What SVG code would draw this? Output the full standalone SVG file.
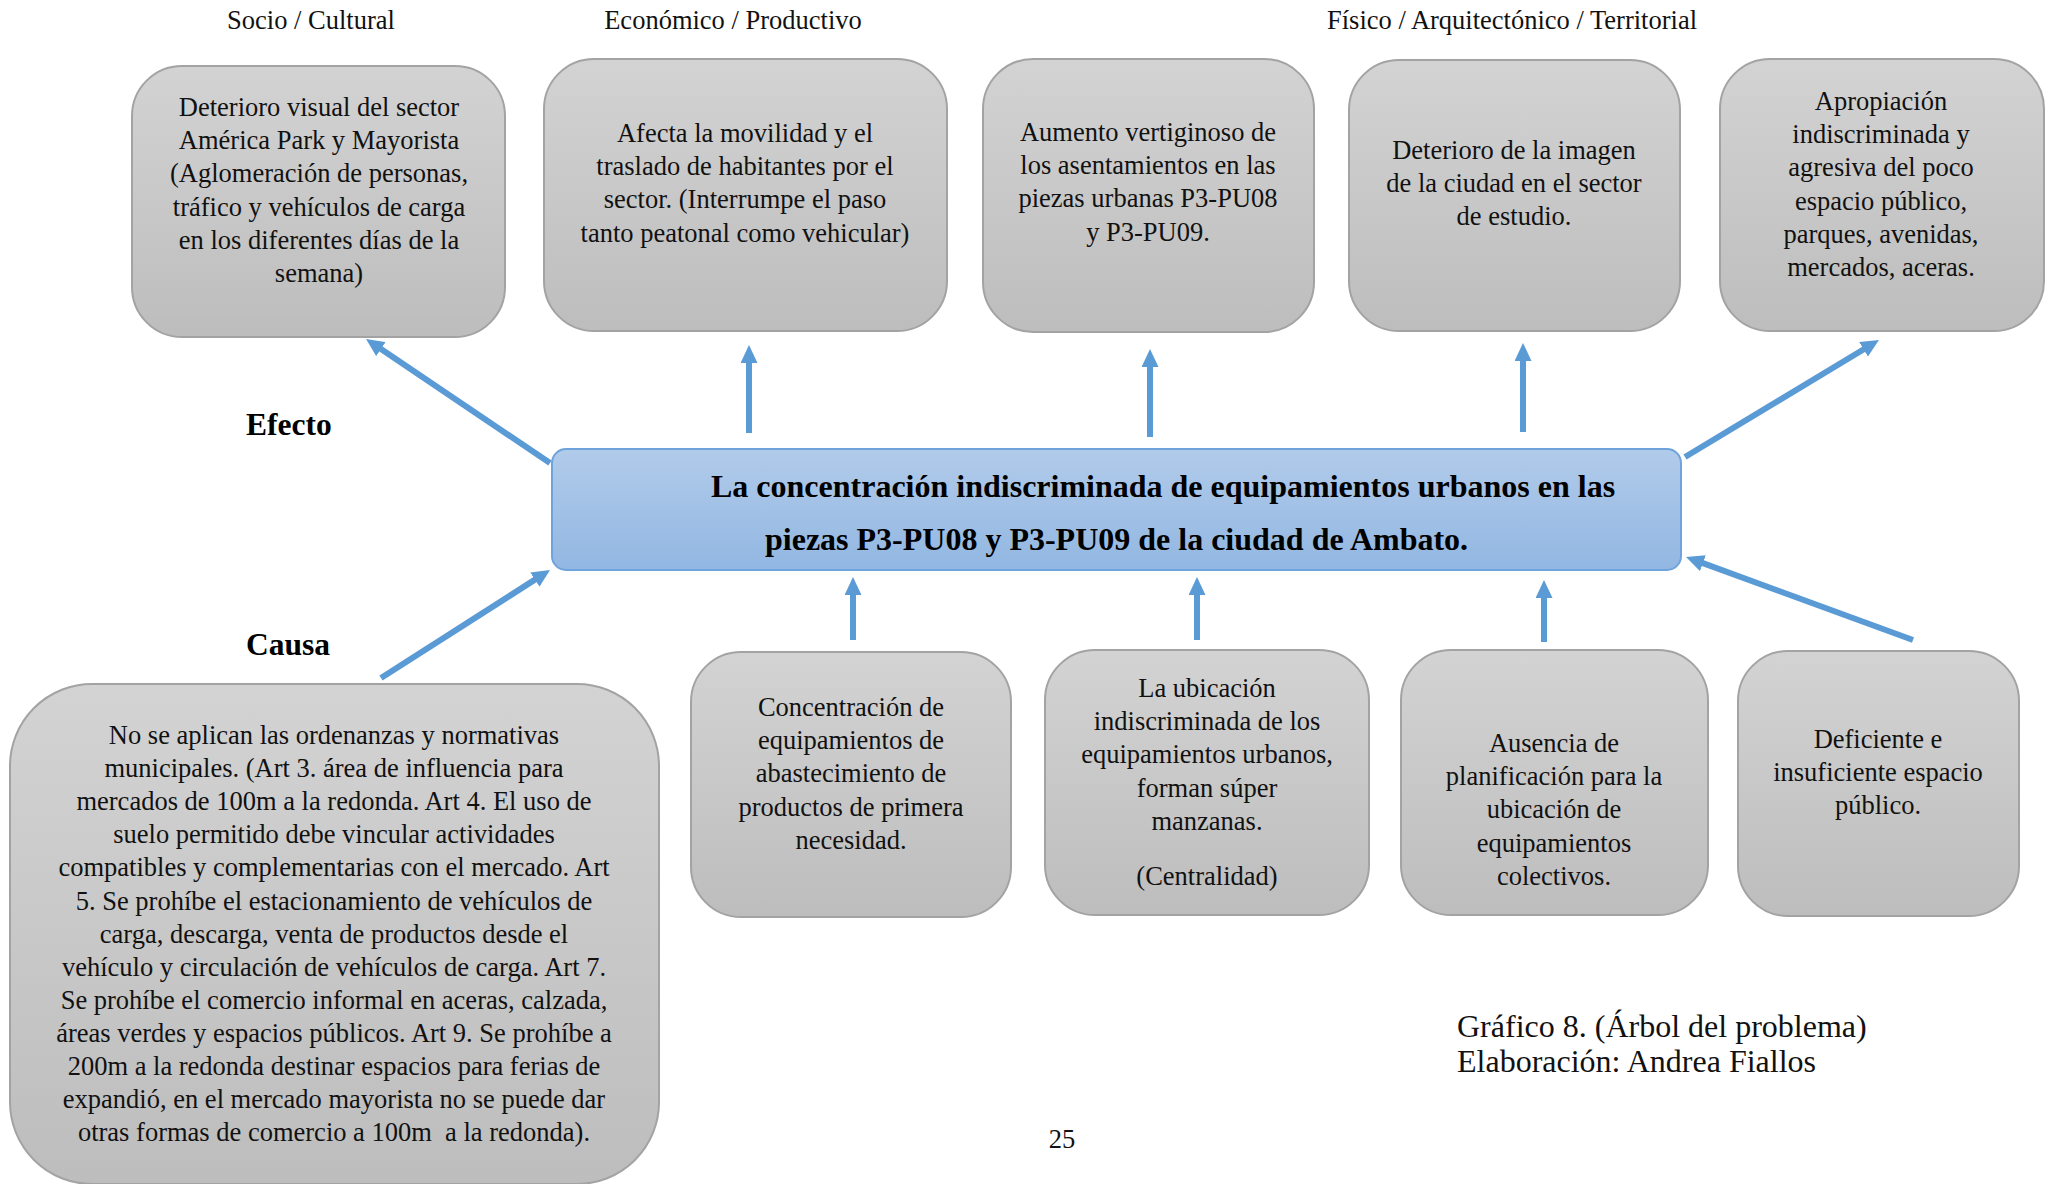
<svg xmlns="http://www.w3.org/2000/svg" width="2048" height="1184" viewBox="0 0 2048 1184">
<defs>
<linearGradient id="gray" x1="0" y1="0" x2="0" y2="1">
<stop offset="0" stop-color="#d3d3d3"/>
<stop offset="1" stop-color="#bdbdbd"/>
</linearGradient>
<linearGradient id="blue" x1="0" y1="0" x2="0" y2="1">
<stop offset="0" stop-color="#b1cbea"/>
<stop offset="1" stop-color="#92b7e2"/>
</linearGradient>
<marker id="ah" viewBox="0 0 18 17" markerWidth="18" markerHeight="17" markerUnits="userSpaceOnUse" refX="8" refY="8.5" orient="auto">
<path d="M0,0 L18,8.5 L0,17 z" fill="#5b9bd5"/>
</marker>
</defs>
<style>
.box{fill:url(#gray);stroke:#a3a3a3;stroke-width:2}
.main{fill:url(#blue);stroke:#6fa3db;stroke-width:2}
.t{font-family:"Liberation Serif","Times New Roman",serif;font-size:26.5px;fill:#111;text-anchor:middle}
.b{font-family:"Liberation Serif","Times New Roman",serif;font-weight:bold;fill:#000}
.cap{font-family:"Liberation Serif","Times New Roman",serif;font-size:32px;fill:#111}
.ar{stroke:#5b9bd5;stroke-width:6;fill:none;marker-end:url(#ah)}
</style>
<rect width="2048" height="1184" fill="#fff"/>

<g id="labels">
<text class="t" x="311" y="29">Socio / Cultural</text>
<text class="t" x="733" y="29">Económico / Productivo</text>
<text class="t" x="1512" y="29">Físico / Arquitectónico / Territorial</text>
<text class="b" x="246" y="435" font-size="31.5">Efecto</text>
<text class="b" x="246" y="655" font-size="31.5">Causa</text>
</g>

<g id="effect1">
<rect class="box" x="132" y="66" width="373" height="271" rx="50" ry="50"/>
<text class="t" x="319" y="116">Deterioro visual del sector<tspan x="319" dy="33.2">América Park y Mayorista</tspan><tspan x="319" dy="33.2">(Aglomeración de personas,</tspan><tspan x="319" dy="33.2">tráfico y vehículos de carga</tspan><tspan x="319" dy="33.2">en los diferentes días de la</tspan><tspan x="319" dy="33.2">semana)</tspan></text>
</g>
<g id="effect2">
<rect class="box" x="544" y="59" width="403" height="272" rx="50" ry="50"/>
<text class="t" x="745" y="142">Afecta la movilidad y el<tspan x="745" dy="33.2">traslado de habitantes por el</tspan><tspan x="745" dy="33.2">sector. (Interrumpe el paso</tspan><tspan x="745" dy="33.2">tanto peatonal como vehicular)</tspan></text>
</g>
<g id="effect3">
<rect class="box" x="983" y="59" width="331" height="273" rx="50" ry="50"/>
<text class="t" x="1148" y="141">Aumento vertiginoso de<tspan x="1148" dy="33.2">los asentamientos en las</tspan><tspan x="1148" dy="33.2">piezas urbanas P3-PU08</tspan><tspan x="1148" dy="33.2">y P3-PU09.</tspan></text>
</g>
<g id="effect4">
<rect class="box" x="1349" y="60" width="331" height="271" rx="50" ry="50"/>
<text class="t" x="1514" y="159">Deterioro de la imagen<tspan x="1514" dy="33.2">de la ciudad en el sector</tspan><tspan x="1514" dy="33.2">de estudio.</tspan></text>
</g>
<g id="effect5">
<rect class="box" x="1720" y="59" width="324" height="272" rx="50" ry="50"/>
<text class="t" x="1881" y="110">Apropiación<tspan x="1881" dy="33.2">indiscriminada y</tspan><tspan x="1881" dy="33.2">agresiva del poco</tspan><tspan x="1881" dy="33.2">espacio público,</tspan><tspan x="1881" dy="33.2">parques, avenidas,</tspan><tspan x="1881" dy="33.2">mercados, aceras.</tspan></text>
</g>

<g id="problem">
<rect class="main" x="552" y="449" width="1129" height="121" rx="14" ry="14"/>
<text class="b" x="711" y="497" font-size="32">La concentración indiscriminada de equipamientos urbanos en las</text>
<text class="b" x="765" y="550" font-size="32">piezas P3-PU08 y P3-PU09 de la ciudad de Ambato.</text>
</g>

<g id="cause1">
<rect class="box" x="10" y="684" width="649" height="500" rx="82" ry="82"/>
<text class="t" x="334" y="744">No se aplican las ordenanzas y normativas<tspan x="334" dy="33.1">municipales. (Art 3. área de influencia para</tspan><tspan x="334" dy="33.1">mercados de 100m a la redonda. Art 4. El uso de</tspan><tspan x="334" dy="33.1">suelo permitido debe vincular actividades</tspan><tspan x="334" dy="33.1">compatibles y complementarias con el mercado. Art</tspan><tspan x="334" dy="33.1">5. Se prohíbe el estacionamiento de vehículos de</tspan><tspan x="334" dy="33.1">carga, descarga, venta de productos desde el</tspan><tspan x="334" dy="33.1">vehículo y circulación de vehículos de carga. Art 7.</tspan><tspan x="334" dy="33.1">Se prohíbe el comercio informal en aceras, calzada,</tspan><tspan x="334" dy="33.1">áreas verdes y espacios públicos. Art 9. Se prohíbe a</tspan><tspan x="334" dy="33.1">200m a la redonda destinar espacios para ferias de</tspan><tspan x="334" dy="33.1">expandió, en el mercado mayorista no se puede dar</tspan><tspan x="334" dy="33.1">otras formas de comercio a 100m&#160; a la redonda).</tspan></text>
</g>
<g id="cause2">
<rect class="box" x="691" y="652" width="320" height="265" rx="50" ry="50"/>
<text class="t" x="851" y="716">Concentración de<tspan x="851" dy="33.2">equipamientos de</tspan><tspan x="851" dy="33.2">abastecimiento de</tspan><tspan x="851" dy="33.2">productos de primera</tspan><tspan x="851" dy="33.2">necesidad.</tspan></text>
</g>
<g id="cause3">
<rect class="box" x="1045" y="650" width="324" height="265" rx="50" ry="50"/>
<text class="t" x="1207" y="697">La ubicación<tspan x="1207" dy="33.2">indiscriminada de los</tspan><tspan x="1207" dy="33.2">equipamientos urbanos,</tspan><tspan x="1207" dy="33.2">forman súper</tspan><tspan x="1207" dy="33.2">manzanas.</tspan><tspan x="1207" dy="55">(Centralidad)</tspan></text>
</g>
<g id="cause4">
<rect class="box" x="1401" y="650" width="307" height="265" rx="50" ry="50"/>
<text class="t" x="1554" y="752">Ausencia de<tspan x="1554" dy="33.2">planificación para la</tspan><tspan x="1554" dy="33.2">ubicación de</tspan><tspan x="1554" dy="33.2">equipamientos</tspan><tspan x="1554" dy="33.2">colectivos.</tspan></text>
</g>
<g id="cause5">
<rect class="box" x="1738" y="651" width="281" height="265" rx="50" ry="50"/>
<text class="t" x="1878" y="748">Deficiente e<tspan x="1878" dy="33.2">insuficiente espacio</tspan><tspan x="1878" dy="33.2">público.</tspan></text>
</g>

<g id="connectors">
<line class="ar" x1="550" y1="463" x2="374.3" y2="344.6"/>
<line class="ar" x1="749" y1="433" x2="749" y2="355"/>
<line class="ar" x1="1150" y1="437" x2="1150" y2="359"/>
<line class="ar" x1="1523" y1="432" x2="1523" y2="353"/>
<line class="ar" x1="1685" y1="457" x2="1870.4" y2="345.2"/>
<line class="ar" x1="381" y1="678" x2="541.6" y2="575.4"/>
<line class="ar" x1="853" y1="640" x2="853" y2="587"/>
<line class="ar" x1="1197" y1="640" x2="1197" y2="587"/>
<line class="ar" x1="1544" y1="642" x2="1544" y2="590"/>
<line class="ar" x1="1913" y1="640" x2="1695.4" y2="560.4"/>
</g>

<g id="caption">
<text class="cap" x="1457" y="1037">Gráfico 8. (Árbol del problema)</text>
<text class="cap" x="1457" y="1072">Elaboración: Andrea Fiallos</text>
<text class="t" x="1062" y="1148">25</text>
</g>
</svg>
